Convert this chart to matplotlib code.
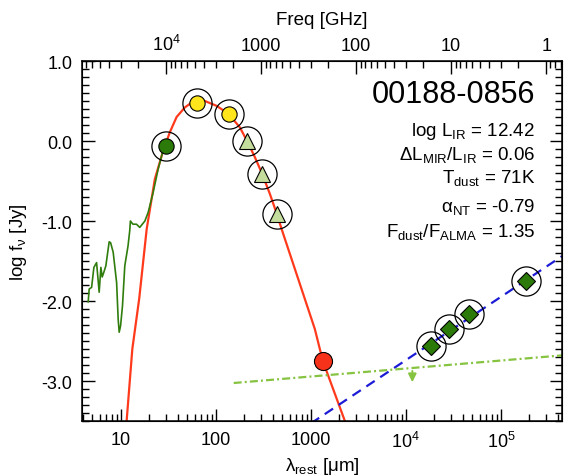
import numpy as np
import matplotlib
matplotlib.use('Agg')
import matplotlib.pyplot as plt
from matplotlib.ticker import FuncFormatter, MultipleLocator, LogLocator, NullFormatter

plt.rcParams['font.family'] = ['Liberation Sans', 'DejaVu Sans']
plt.rcParams['mathtext.fontset'] = 'custom'
plt.rcParams['mathtext.rm'] = 'Liberation Sans'
plt.rcParams['mathtext.it'] = 'Liberation Sans:italic'
plt.rcParams['axes.unicode_minus'] = False

# IRS spectrum (rest wavelength um, log fnu Jy)
irs_wave = [4.53, 4.64, 4.92, 5.20, 5.55, 5.91, 6.16, 6.36, 6.62, 6.95, 7.53, 7.79, 8.30,
            9.02, 9.37, 9.60, 9.93, 10.4, 11.0, 11.9, 12.4, 12.6, 13.4, 14.6, 15.8, 17.9,
            19.4, 21.9, 24.7, 27.5, 29.8]
irs_flux = [-2.01, -1.85, -1.83, -1.58, -1.52, -1.89, -1.58, -1.70, -1.64, -1.56, -1.26, -1.27, -1.39,
            -1.77, -2.23, -2.39, -2.31, -2.06, -1.56, -1.31, -1.12, -1.00, -1.04, -1.04, -1.08, -1.00,
            -0.89, -0.64, -0.35, -0.14, -0.05]

# dust model curve
dust_wave = [11.5, 13.2, 15.6, 18.7, 22.8, 27.9, 32.8, 38.6, 47.2, 55.5, 63.0, 76.6, 101.6,
             136, 179, 213, 257, 307, 370, 438, 492, 1101, 1337, 2280]
dust_flux = [-3.5, -2.6, -1.97, -1.10, -0.475, -0.12, 0.11, 0.30, 0.42, 0.48, 0.49, 0.50, 0.44,
             0.34, 0.17, 0.0, -0.20, -0.41, -0.66, -0.91, -1.10, -2.35, -2.75, -3.5]

# photometry
mir_wave, mir_flux = [29.8], [-0.06]
pacs_wave, pacs_flux = [62.7, 136], [0.475, 0.34]
spire_wave, spire_flux = [214, 307, 438], [0.0, -0.41, -0.91]
alma_wave, alma_flux = [1349], [-2.75]
radio_wave = [18300, 28600, 46400, 182000]
radio_flux = [-2.56, -2.35, -2.16, -1.75]

# synchrotron and free-free components
sync_wave, sync_flux = [1000, 440000], [-3.53, -1.44]
ff_wave, ff_flux = [154, 440000], [-3.025, -2.68]
lim_wave, lim_top, lim_bot = 11700, -2.84, -3.05

xmin, xmax = 3.9, 4.4e5
c_um_ghz = 2.998e5

fig = plt.figure(figsize=(5.68, 4.77), dpi=100)
ax = fig.add_axes([0.1444, 0.1153, 0.845, 0.7547])

ax.plot(irs_wave, irs_flux, color='#2f7d0c', lw=1.2, zorder=3)
ax.plot(dust_wave, dust_flux, color='#ff3a1c', lw=1.6, zorder=2)
ax.plot(sync_wave, sync_flux, color='#1c1cd6', lw=1.6, ls=(0, (4.5, 3)), zorder=2)
ax.plot(ff_wave, ff_flux, color='#86c340', lw=1.6, ls=(0, (3.6, 1.4, 0.9, 1.4)), zorder=2)
ax.annotate('', xy=(lim_wave, lim_bot), xytext=(lim_wave, lim_top),
            arrowprops=dict(arrowstyle='-|>', color='#86c340', lw=1.4, mutation_scale=12))

ring = dict(marker='o', ms=21, mfc='none', mec='black', mew=0.9, ls='none', zorder=4)
for w, f in [(mir_wave, mir_flux), (pacs_wave, pacs_flux), (spire_wave, spire_flux), (radio_wave, radio_flux)]:
    ax.plot(w, f, **ring)

ax.plot(mir_wave, mir_flux, 'o', ms=11, mfc='#2c7a0a', mec='black', mew=0.8, zorder=5)
ax.plot(pacs_wave, pacs_flux, 'o', ms=11, mfc='#ffe51c', mec='black', mew=0.8, zorder=5)
ax.plot(spire_wave, spire_flux, '^', ms=11, mfc='#c4dc9c', mec='black', mew=0.8, zorder=5)
ax.plot(alma_wave, alma_flux, 'o', ms=13, mfc='#f6321a', mec='black', mew=0.8, zorder=5)
ax.plot(radio_wave, radio_flux, 'D', ms=9, mfc='#2c7a0a', mec='black', mew=0.8, zorder=5)

ax.set_xscale('log')
ax.set_xlim(xmin, xmax)
ax.set_ylim(-3.5, 1.0)

ax.yaxis.set_major_locator(MultipleLocator(1.0))
ax.yaxis.set_minor_locator(MultipleLocator(0.1))
ax.yaxis.set_major_formatter(FuncFormatter(lambda v, p: '%.1f' % v))

def xfmt(v, p):
    if v >= 1e4:
        return r'10$^{%d}$' % round(np.log10(v))
    return '%d' % round(v)

ax.xaxis.set_major_locator(LogLocator(base=10, numticks=10))
ax.xaxis.set_minor_locator(LogLocator(base=10, subs=np.arange(2, 10), numticks=20))
ax.xaxis.set_major_formatter(FuncFormatter(xfmt))
ax.xaxis.set_minor_formatter(NullFormatter())

ax.tick_params(which='both', direction='in', right=True, top=False, labelsize=13, width=1.0)
ax.tick_params(which='major', length=9, pad=7)
ax.tick_params(which='minor', length=5)
for s in ax.spines.values():
    s.set_linewidth(1.1)

ax.set_xlabel('λ$_{\\rm rest}$ [μm]', fontsize=13.5, labelpad=3)
ax.set_ylabel('log f$_{\\rm ν}$ [Jy]', fontsize=13.5, labelpad=9)

ax2 = ax.twiny()
ax2.set_xscale('log')
ax2.set_xlim(c_um_ghz / xmin, c_um_ghz / xmax)
ax2.xaxis.set_major_locator(LogLocator(base=10, numticks=10))
ax2.xaxis.set_minor_locator(LogLocator(base=10, subs=np.arange(2, 10), numticks=20))
ax2.xaxis.set_major_formatter(FuncFormatter(xfmt))
ax2.xaxis.set_minor_formatter(NullFormatter())
ax2.tick_params(which='both', direction='in', labelsize=13, width=1.0)
ax2.tick_params(which='major', length=9, pad=5)
ax2.tick_params(which='minor', length=5)
ax2.set_xlabel('Freq [GHz]', fontsize=13.5, labelpad=7)

ax.text(0.944, 0.887, '00188-0856', transform=ax.transAxes, ha='right', va='baseline', fontsize=22)
info = ['log L$_{\\rm IR}$ = 12.42',
        'ΔL$_{\\rm MIR}$/L$_{\\rm IR}$ = 0.06',
        'T$_{\\rm dust}$ = 71K',
        'α$_{\\rm NT}$ = -0.79',
        'F$_{\\rm dust}$/F$_{\\rm ALMA}$ = 1.35']
info_y = [0.794, 0.728, 0.663, 0.584, 0.515]
for t, y in zip(info, info_y):
    ax.text(0.944, y, t, transform=ax.transAxes, ha='right', va='baseline', fontsize=13.5)

fig.savefig('out.png', dpi=100)
